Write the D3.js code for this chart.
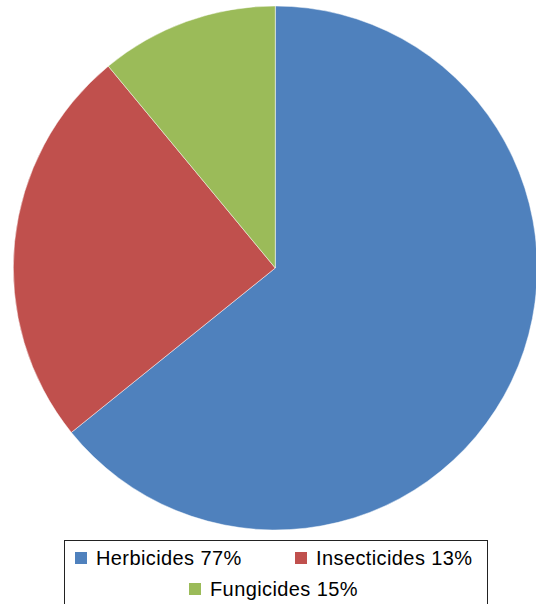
<!DOCTYPE html>
<html>
<head>
<meta charset="utf-8">
<script src="https://cdn.jsdelivr.net/npm/d3@7"></script>
<style>
  html, body { margin: 0; padding: 0; background: #fff; }
  svg { display: block; }
  .legend text { font-family: "Liberation Sans", Arial, Helvetica, sans-serif; font-size: 20px; letter-spacing: 0.4px; fill: #000; }
</style>
</head>
<body>
<svg id="chart" width="536" height="604"></svg>
<script>
// Pesticide use by type
const categories = ["Herbicides", "Insecticides", "Fungicides"];
const shares = [64.2, 24.8, 11.0];
const legendLabels = ["Herbicides 77%", "Insecticides 13%", "Fungicides 15%"];
const colors = ["#4F81BD", "#C0504D", "#9BBB59"];

const svg = d3.select("#chart");
const cx = 275.3, cy = 268, radius = 262;

const data = categories.map((c, i) => ({ name: c, value: shares[i], label: legendLabels[i], color: colors[i] }));

const pie = d3.pie().value(d => d.value).sort(null);
const arc = d3.arc().innerRadius(0).outerRadius(radius);

svg.append("g")
  .attr("transform", `translate(${cx},${cy})`)
  .selectAll("path")
  .data(pie(data))
  .join("path")
  .attr("d", arc)
  .attr("fill", d => d.data.color)
  .attr("stroke", "rgba(255,255,255,0.6)")
  .attr("stroke-width", 0.8);

// Legend box (runs past the bottom edge)
const legend = svg.append("g").attr("class", "legend");
legend.append("rect")
  .attr("x", 64.5).attr("y", 540.5)
  .attr("width", 423).attr("height", 80)
  .attr("fill", "#fff")
  .attr("stroke", "#222")
  .attr("stroke-width", 1);

const items = [
  { x: 75, y: 552 },
  { x: 295, y: 552 },
  { x: 189, y: 583 }
];
const entries = legend.selectAll("g.item")
  .data(data)
  .join("g")
  .attr("class", "item")
  .attr("transform", (d, i) => `translate(${items[i].x},${items[i].y})`);

entries.append("rect")
  .attr("width", 12).attr("height", 12)
  .attr("fill", d => d.color);

entries.append("text")
  .attr("x", 21).attr("y", 12.5)
  .text(d => d.label);
</script>
</body>
</html>
